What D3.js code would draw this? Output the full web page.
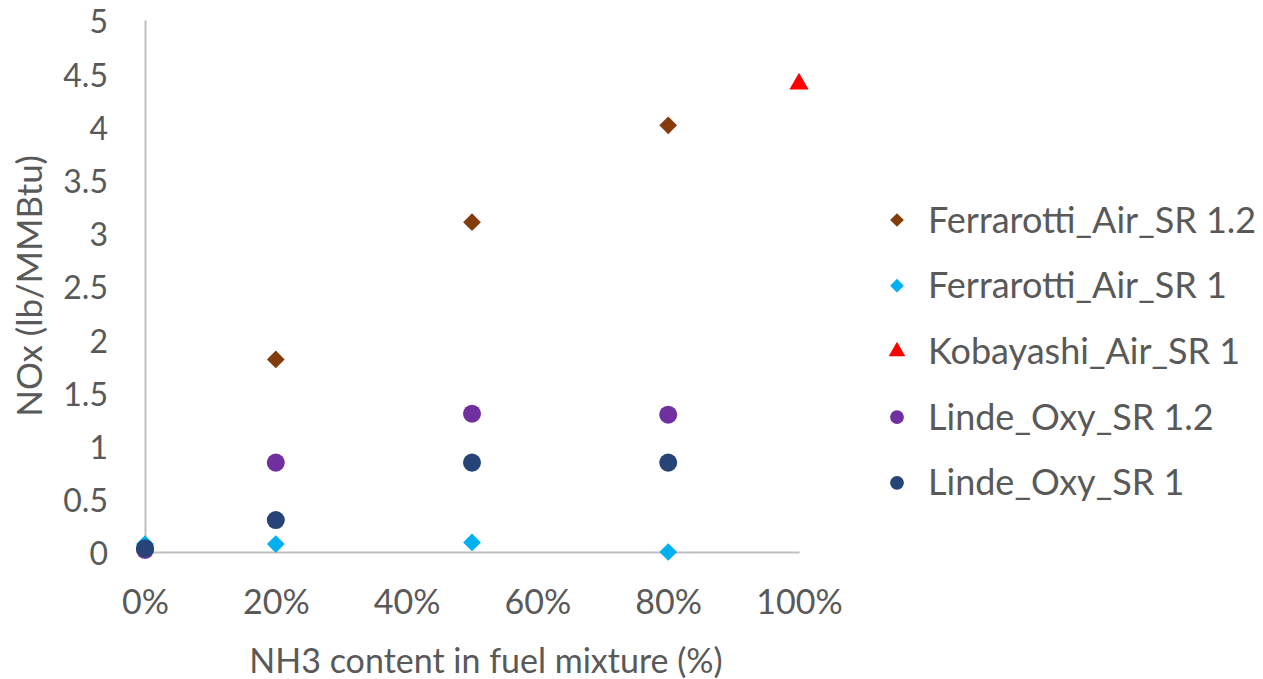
<!DOCTYPE html>
<html>
<head>
<meta charset="utf-8">
<script src="https://cdn.jsdelivr.net/npm/d3@7"></script>
<style>
  html, body { margin: 0; padding: 0; background: #fff; }
  svg { display: block; font-family: Lato, "Open Sans", sans-serif; }
</style>
</head>
<body>
<svg id="chart" width="1263" height="679"></svg>
<script>
// NH3 share in the fuel (fraction) for each measurement point
const ferrarottiSR12X = [0.2, 0.5, 0.8];
const ferrarottiSR12Y = [1.81, 3.10, 4.01];

const ferrarottiSR1X = [0, 0.2, 0.5, 0.8];
const ferrarottiSR1Y = [0.075, 0.075, 0.09, 0.0];

const kobayashiX = [1.0];
const kobayashiY = [4.40];

const lindeSR12X = [0, 0.2, 0.5, 0.8];
const lindeSR12Y = [0.02, 0.84, 1.30, 1.29];

const lindeSR1X = [0, 0.2, 0.5, 0.8];
const lindeSR1Y = [0.035, 0.30, 0.84, 0.84];

const seriesNames = ["Ferrarotti_Air_SR 1.2", "Ferrarotti_Air_SR 1", "Kobayashi_Air_SR 1", "Linde_Oxy_SR 1.2", "Linde_Oxy_SR 1"];
const xTicks = [0, 0.2, 0.4, 0.6, 0.8, 1.0];
const yTicks = [0, 0.5, 1, 1.5, 2, 2.5, 3, 3.5, 4, 4.5, 5];
const xTitle = "NH3 content in fuel mixture (%)";
const yTitle = "NOx (lb/MMBtu)";

const series = [
  { name: seriesNames[0], xs: ferrarottiSR12X, ys: ferrarottiSR12Y, shape: d3.symbolDiamond2, color: "#843C0C" },
  { name: seriesNames[1], xs: ferrarottiSR1X, ys: ferrarottiSR1Y, shape: d3.symbolDiamond2, color: "#00B0F0" },
  { name: seriesNames[2], xs: kobayashiX, ys: kobayashiY, shape: d3.symbolTriangle, color: "#FF0000" },
  { name: seriesNames[3], xs: lindeSR12X, ys: lindeSR12Y, shape: d3.symbolCircle, color: "#7030A0" },
  { name: seriesNames[4], xs: lindeSR1X, ys: lindeSR1Y, shape: d3.symbolCircle, color: "#264478" }
];

const svg = d3.select("#chart");
const plot = { left: 145, right: 799, top: 20, bottom: 552 };
const textColor = "#595959";
const axisColor = "#bfbfbf";

const x = d3.scaleLinear().domain([0, 1]).range([plot.left, plot.right]);
const y = d3.scaleLinear().domain([0, 5]).range([plot.bottom, plot.top]);

// Axes: plain lines, no tick marks
const xAxis = svg.append("g")
  .attr("transform", `translate(0,${plot.bottom})`)
  .call(d3.axisBottom(x).tickValues(xTicks).tickSize(0).tickPadding(38).tickFormat(d3.format(".0%")));
const yAxis = svg.append("g")
  .attr("transform", `translate(${plot.left},0)`)
  .call(d3.axisLeft(y).tickValues(yTicks).tickSize(0).tickPadding(37).tickFormat(d => String(d)));

[xAxis, yAxis].forEach(g => {
  g.select(".domain").attr("stroke", axisColor).attr("stroke-width", 2);
  g.selectAll("text").attr("fill", textColor).attr("font-family", "Lato, sans-serif");
});
xAxis.selectAll("text").attr("font-size", 34);
yAxis.selectAll("text").attr("font-size", 32).attr("dy", "0.4em");

// Axis titles
svg.append("text")
  .attr("x", 486).attr("y", 673)
  .attr("text-anchor", "middle").attr("fill", textColor).attr("font-size", 34)
  .text(xTitle);
svg.append("text")
  .attr("transform", `translate(42,${(plot.top + plot.bottom) / 2}) rotate(-90)`)
  .attr("text-anchor", "middle").attr("fill", textColor).attr("font-size", 35)
  .text(yTitle);

// Markers
function sizeOf(shape) {
  if (shape === d3.symbolDiamond2) return 200;
  if (shape === d3.symbolTriangle) return 160;
  return 255;
}
series.forEach(s => {
  const sym = d3.symbol().type(s.shape).size(sizeOf(s.shape));
  svg.append("g").selectAll("path")
    .data(s.xs.map((xv, i) => [xv, s.ys[i]]))
    .join("path")
    .attr("transform", d => `translate(${x(d[0])},${y(d[1])})`)
    .attr("d", sym)
    .attr("fill", s.color);
});

// Legend
const legend = svg.append("g").attr("transform", "translate(897,220)");
series.forEach((s, i) => {
  const row = legend.append("g").attr("transform", `translate(0,${i * 65.7})`);
  const legendSize = s.shape === d3.symbolCircle ? 150 : 120;
  row.append("path").attr("d", d3.symbol().type(s.shape).size(legendSize)).attr("fill", s.color);
  row.append("text").attr("x", 31).attr("dy", "0.35em")
    .attr("fill", textColor).attr("font-size", 36).text(s.name);
});
</script>
</body>
</html>
